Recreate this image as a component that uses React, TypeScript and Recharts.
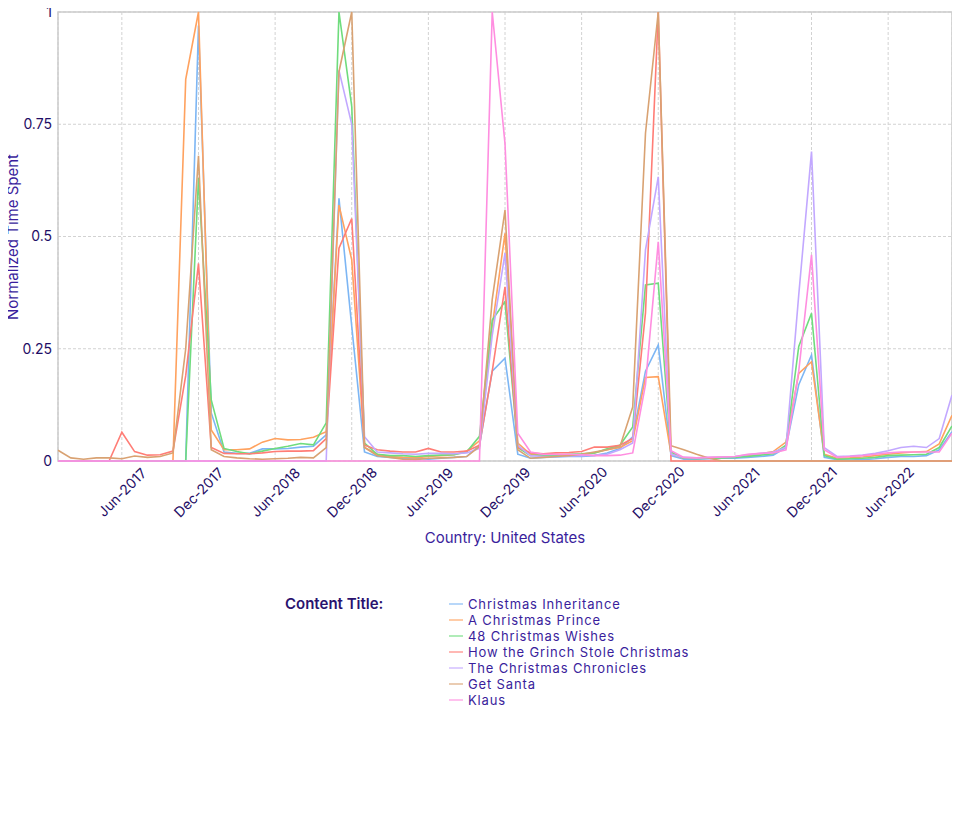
import React from "react";
import {
  LineChart,
  Line,
  XAxis,
  YAxis,
  CartesianGrid,
  ReferenceArea,
} from "recharts";

const months: string[] = [
  "Jan-2017","Feb-2017","Mar-2017","Apr-2017","May-2017","Jun-2017","Jul-2017","Aug-2017","Sep-2017","Oct-2017","Nov-2017","Dec-2017",
  "Jan-2018","Feb-2018","Mar-2018","Apr-2018","May-2018","Jun-2018","Jul-2018","Aug-2018","Sep-2018","Oct-2018","Nov-2018","Dec-2018",
  "Jan-2019","Feb-2019","Mar-2019","Apr-2019","May-2019","Jun-2019","Jul-2019","Aug-2019","Sep-2019","Oct-2019","Nov-2019","Dec-2019",
  "Jan-2020","Feb-2020","Mar-2020","Apr-2020","May-2020","Jun-2020","Jul-2020","Aug-2020","Sep-2020","Oct-2020","Nov-2020","Dec-2020",
  "Jan-2021","Feb-2021","Mar-2021","Apr-2021","May-2021","Jun-2021","Jul-2021","Aug-2021","Sep-2021","Oct-2021","Nov-2021","Dec-2021",
  "Jan-2022","Feb-2022","Mar-2022","Apr-2022","May-2022","Jun-2022","Jul-2022","Aug-2022","Sep-2022","Oct-2022","Nov-2022",
];

const xTicks: string[] = [
  "Jun-2017","Dec-2017","Jun-2018","Dec-2018","Jun-2019","Dec-2019",
  "Jun-2020","Dec-2020","Jun-2021","Dec-2021","Jun-2022",
];

const yTicks: number[] = [0, 0.25, 0.5, 0.75, 1];

const christmasInheritance: number[] = [
  0,0,0,0,0,0,0,0,0,0,0,0.97,
  0.107,0.02,0.017,0.017,0.027,0.027,0.028,0.031,0.033,0.058,0.585,0.3,
  0.02,0.01,0.008,0.006,0.006,0.004,0.006,0.008,0.01,0.035,0.2,0.229,
  0.015,0.006,0.008,0.009,0.01,0.01,0.012,0.018,0.028,0.054,0.2,0.258,
  0.012,0.004,0.004,0.005,0.006,0.006,0.008,0.01,0.013,0.03,0.17,0.236,
  0.008,0.003,0.002,0.003,0.005,0.008,0.01,0.01,0.012,0.025,0.065,
];

const aChristmasPrince: number[] = [
  0,0,0,0,0,0,0,0,0,0,0.85,1.0,
  0.069,0.025,0.025,0.027,0.042,0.05,0.047,0.048,0.053,0.065,0.57,0.448,
  0.03,0.015,0.01,0.008,0.007,0.01,0.012,0.014,0.022,0.045,0.3,0.507,
  0.04,0.015,0.012,0.012,0.013,0.014,0.018,0.025,0.03,0.045,0.186,0.188,
  0.016,0.006,0.006,0.007,0.008,0.009,0.012,0.016,0.021,0.042,0.195,0.221,
  0.015,0.006,0.007,0.009,0.012,0.015,0.018,0.02,0.021,0.038,0.102,
];

const christmasWishes48: number[] = [
  0,0,0,0,0,0,0,0,0,0,0,0.63,
  0.136,0.028,0.021,0.016,0.022,0.028,0.033,0.039,0.036,0.085,1.0,0.79,
  0.04,0.015,0.012,0.012,0.01,0.012,0.013,0.014,0.02,0.055,0.314,0.355,
  0.03,0.012,0.013,0.013,0.015,0.016,0.018,0.027,0.035,0.076,0.392,0.396,
  0.02,0.006,0.005,0.006,0.007,0.008,0.01,0.013,0.016,0.035,0.255,0.329,
  0.012,0.004,0.005,0.006,0.008,0.012,0.013,0.014,0.015,0.03,0.078,
];

const grinch: number[] = [
  0,0,0,0,0,0.064,0.021,0.013,0.014,0.022,0.19,0.44,
  0.03,0.017,0.016,0.016,0.018,0.021,0.022,0.022,0.023,0.05,0.474,0.54,
  0.035,0.025,0.022,0.02,0.02,0.028,0.02,0.02,0.022,0.035,0.2,0.388,
  0.03,0.018,0.016,0.018,0.019,0.021,0.031,0.031,0.035,0.05,0.33,1.0,
  0,0,0,0,0,0,0,0,0,0,0,0,
  0,0,0,0,0,0,0,0,0,0,0,
];

const christmasChronicles: number[] = [
  0,0,0,0,0,0,0,0,0,0,0,0,
  0,0,0,0,0,0,0,0,0,0,0.87,0.75,
  0.054,0.02,0.018,0.016,0.015,0.017,0.017,0.016,0.018,0.028,0.28,0.463,
  0.035,0.012,0.01,0.01,0.011,0.012,0.013,0.015,0.025,0.04,0.47,0.633,
  0.015,0.008,0.007,0.008,0.009,0.01,0.014,0.017,0.02,0.03,0.37,0.689,
  0.03,0.01,0.011,0.013,0.017,0.023,0.03,0.033,0.03,0.05,0.147,
];

const getSanta: number[] = [
  0.024,0.007,0.004,0.007,0.007,0.005,0.011,0.008,0.01,0.018,0.25,0.68,
  0.025,0.01,0.007,0.005,0.004,0.005,0.006,0.008,0.007,0.03,0.867,1.0,
  0.03,0.012,0.008,0.004,0.003,0.006,0.007,0.008,0.01,0.032,0.36,0.559,
  0.025,0.006,0.008,0.01,0.012,0.015,0.02,0.025,0.032,0.12,0.73,1.0,
  0.034,0.025,0.015,0.006,0,0,0,0,0,0,0,0,
  0,0,0,0,0,0,0,0,0,0,0,
];

const klaus: number[] = [
  0,0,0,0,0,0,0,0,0,0,0,0,
  0,0,0,0,0,0,0,0,0,0,0,0,
  0,0,0,0,0,0,0,0,0,0,1.0,0.707,
  0.062,0.02,0.015,0.015,0.015,0.014,0.012,0.012,0.013,0.018,0.17,0.488,
  0.023,0.008,0.007,0.008,0.009,0.01,0.015,0.017,0.018,0.025,0.2,0.459,
  0.025,0.008,0.01,0.012,0.015,0.018,0.02,0.02,0.02,0.02,0.062,
];

const seriesNames: string[] = [
  "Christmas Inheritance",
  "A Christmas Prince",
  "48 Christmas Wishes",
  "How the Grinch Stole Christmas",
  "The Christmas Chronicles",
  "Get Santa",
  "Klaus",
];

const seriesValues: number[][] = [
  christmasInheritance,
  aChristmasPrince,
  christmasWishes48,
  grinch,
  christmasChronicles,
  getSanta,
  klaus,
];

const seriesColors: string[] = [
  "#7db6f4",
  "#ffa25f",
  "#6fdc7d",
  "#ff7d76",
  "#c2a8ff",
  "#d9a272",
  "#ff8ee0",
];

const data = months.map((m, i) => {
  const row: Record<string, string | number> = { month: m };
  seriesNames.forEach((name, s) => {
    row[name] = seriesValues[s][i];
  });
  return row;
});

const FONT = "Inter, 'Open Sans', sans-serif";
const TICK_COLOR = "#1f0e66";
const LABEL_COLOR = "#3a1e9c";

const XTick = (props: any) => {
  const { x, y, payload } = props;
  return (
    <g transform={`translate(${x},${y + 23})`}>
      <text
        transform="rotate(-45)"
        textAnchor="middle"
        dominantBaseline="central"
        fontSize={14}
        fontFamily={FONT}
        fill={TICK_COLOR}
      >
        {payload.value}
      </text>
    </g>
  );
};

const fmtY = (v: number) => String(v);

export default function App() {
  return (
    <div
      style={{
        position: "relative",
        width: 960,
        height: 835,
        margin: "-8px 0 0 -8px",
        fontFamily: FONT,
        background: "#fff",
      }}
    >
      <LineChart
        width={960}
        height={835}
        data={data}
        margin={{ top: 12, right: 8, left: 0, bottom: 274 }}
      >
        <CartesianGrid stroke="#d2d2d2" strokeDasharray="3 2" />
        <XAxis
          dataKey="month"
          ticks={xTicks}
          interval={0}
          tickLine={false}
          axisLine={false}
          height={100}
          tick={<XTick />}
          label={{
            value: "Country: United States",
            position: "insideTop",
            offset: 71,
            fill: LABEL_COLOR,
            fontSize: 15,
            fontFamily: FONT,
          }}
        />
        <YAxis
          domain={[0, 1]}
          ticks={yTicks}
          tickFormatter={fmtY}
          width={58}
          tickLine={false}
          axisLine={false}
          tickSize={6}
          tickMargin={0}
          tick={{ fill: TICK_COLOR, fontSize: 14, fontFamily: FONT }}
        />
        <ReferenceArea
          x1={months[0]}
          x2={months[months.length - 1]}
          y1={0}
          y2={1}
          fill="none"
          stroke="#cccccc"
          strokeWidth={1.5}
          ifOverflow="visible"
        />
        {seriesNames.map((name, s) => (
          <Line
            key={name}
            type="linear"
            dataKey={name}
            stroke={seriesColors[s]}
            strokeWidth={1.6}
            dot={false}
            activeDot={false}
            isAnimationActive={false}
          />
        ))}
      </LineChart>
      <div
        style={{
          position: "absolute",
          left: 13,
          top: 236.5,
          transform: "translate(-50%, -50%) rotate(-90deg)",
          whiteSpace: "nowrap",
          fontSize: 15,
          lineHeight: "16px",
          color: LABEL_COLOR,
        }}
      >
        Normalized Time Spent
      </div>
      <div
        style={{
          position: "absolute",
          left: 285,
          top: 595,
          fontSize: 15,
          fontWeight: 600,
          color: "#2a136f",
          lineHeight: "18px",
        }}
      >
        Content Title:
      </div>
      <div style={{ position: "absolute", left: 449, top: 596 }}>
        {seriesNames.map((name, s) => (
          <div
            key={name}
            style={{
              display: "flex",
              alignItems: "center",
              height: 16,
              fontSize: 13,
              letterSpacing: "0.85px",
              color: LABEL_COLOR,
              whiteSpace: "nowrap",
            }}
          >
            <span
              style={{
                display: "inline-block",
                width: 14,
                height: 2,
                background: seriesColors[s],
                opacity: 0.55,
                marginRight: 5,
              }}
            />
            <span style={{ lineHeight: "16px" }}>{name}</span>
          </div>
        ))}
      </div>
    </div>
  );
}
